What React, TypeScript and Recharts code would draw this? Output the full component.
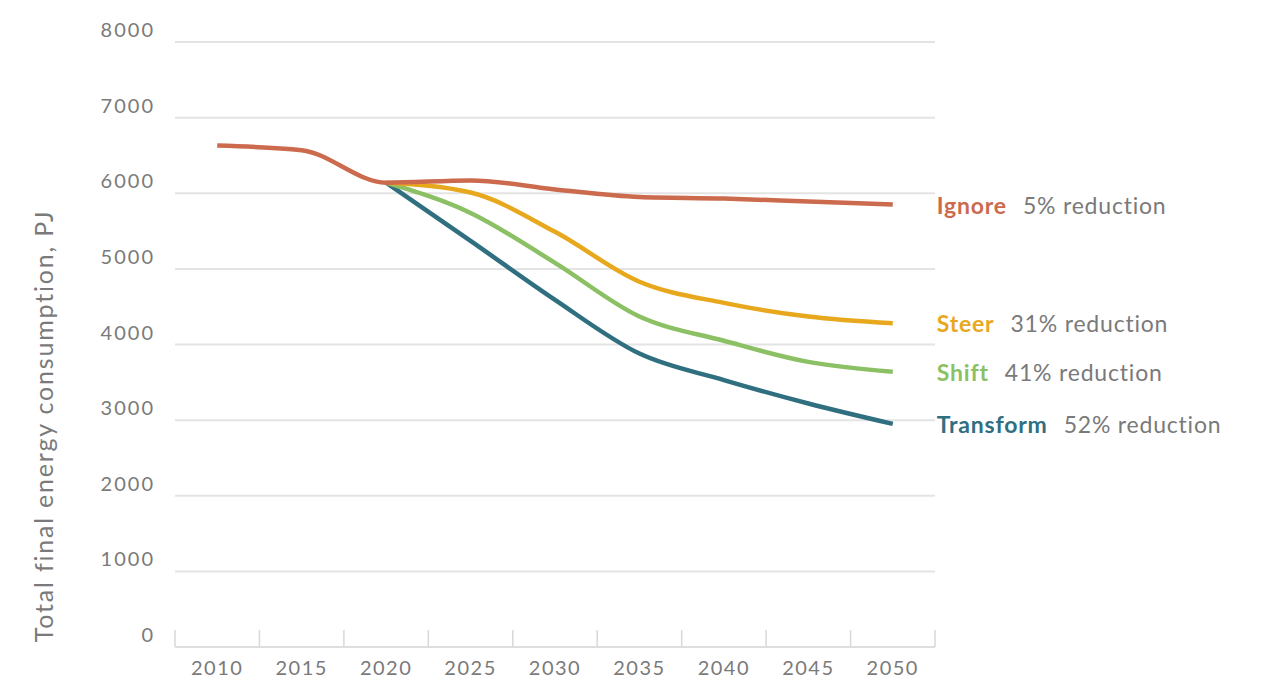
import { LineChart, Line, XAxis, YAxis, CartesianGrid, LabelList, Label } from 'recharts';

const years = [2010, 2015, 2020, 2025, 2030, 2035, 2040, 2045, 2050];
const ignore = [6630, 6570, 6140, 6170, 6050, 5950, 5930, 5890, 5850];
const steer = [null, null, 6140, 6010, 5490, 4830, 4550, 4370, 4280];
const shift = [null, null, 6140, 5740, 5080, 4370, 4050, 3770, 3640];
const transform = [null, null, 6140, 5370, 4590, 3880, 3530, 3220, 2950];

const yTicks = [0, 1000, 2000, 3000, 4000, 5000, 6000, 7000, 8000];
// boundaries between year bands, where the small axis marks sit
const bandEdges = [2007.5, 2012.5, 2017.5, 2022.5, 2027.5, 2032.5, 2037.5, 2042.5, 2047.5, 2052.5];

const scenarios = [
  { key: 'transform', name: 'Transform', note: '52% reduction', color: '#2f6f80' },
  { key: 'shift', name: 'Shift', note: '41% reduction', color: '#8cc064' },
  { key: 'steer', name: 'Steer', note: '31% reduction', color: '#e8a81e' },
  { key: 'ignore', name: 'Ignore', note: '5% reduction', color: '#cc6a4e' },
];

const data = years.map((year, i) => ({
  year,
  ignore: ignore[i],
  steer: steer[i],
  shift: shift[i],
  transform: transform[i],
}));

const FONT = 'Lato, "Open Sans", sans-serif';
const GREY = '#7a7a7a';

function endLabel(name: string, note: string, color: string) {
  return (props: any) => {
    const { x, y, index } = props;
    if (index !== years.length - 1) return null;
    return (
      <text
        x={x + 44}
        y={y}
        dominantBaseline="central"
        fontFamily={FONT}
        fontSize={23}
        letterSpacing={0.8}
      >
        <tspan fill={color} fontWeight={700}>{name}</tspan>
        <tspan fill={GREY} dx={16}>{note}</tspan>
      </text>
    );
  };
}

export default function App() {
  return (
    <div style={{ position: 'absolute', left: 0, top: 0, background: '#fff' }}>
      <LineChart
        width={1272}
        height={685}
        data={data}
        margin={{ top: 42, right: 337, bottom: 8, left: 0 }}
      >
        <CartesianGrid xAxisId="yr" vertical={false} stroke="#e4e4e4" strokeWidth={2} />
        <XAxis
          xAxisId="marks"
          dataKey="year"
          type="number"
          domain={[2007.5, 2052.5]}
          ticks={bandEdges}
          interval={0}
          mirror
          height={1}
          axisLine={false}
          tick={() => <g />}
          tickSize={17}
          tickLine={{ stroke: '#d8d8d8', strokeWidth: 1.5 }}
        />
        <XAxis
          xAxisId="yr"
          dataKey="year"
          type="number"
          domain={[2007.5, 2052.5]}
          ticks={years}
          interval={0}
          height={30}
          tickLine={false}
          tickSize={0}
          tickMargin={14}
          axisLine={{ stroke: '#dedede', strokeWidth: 2 }}
          tick={{ fill: GREY, fontSize: 20, fontFamily: FONT, letterSpacing: 1.5 }}
        />
        <YAxis
          domain={[0, 8000]}
          ticks={yTicks}
          interval={0}
          width={175}
          axisLine={false}
          tickLine={false}
          tickSize={0}
          tickMargin={20}
          tick={{ fill: GREY, fontSize: 20, fontFamily: FONT, letterSpacing: 2, dy: -12 }}
        >
          <Label
            content={() => (
              <text
                x={43}
                y={426}
                transform="rotate(-90, 43, 426)"
                textAnchor="middle"
                dominantBaseline="central"
                fill={GREY}
                fontFamily={FONT}
                fontSize={25}
                letterSpacing={1.8}
              >
                Total final energy consumption, PJ
              </text>
            )}
          />
        </YAxis>
        {scenarios.map((s) => (
          <Line
            key={s.key}
            xAxisId="yr"
            type="monotone"
            dataKey={s.key}
            stroke={s.color}
            strokeWidth={4.5}
            dot={false}
            connectNulls={false}
            isAnimationActive={false}
          >
            <LabelList dataKey={s.key} content={endLabel(s.name, s.note, s.color)} />
          </Line>
        ))}
      </LineChart>
    </div>
  );
}
